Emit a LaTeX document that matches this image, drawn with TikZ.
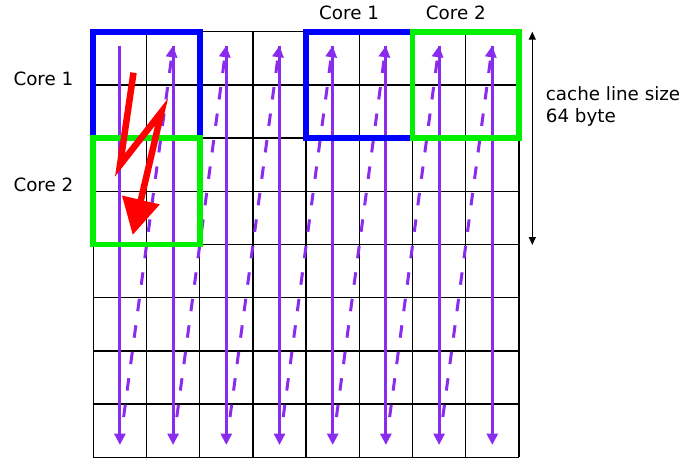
\documentclass[tikz,border=0pt]{standalone}
\usepackage{fontspec}
\setmainfont{DejaVu Sans}
\usetikzlibrary{arrows.meta,calc}
\definecolor{pv}{RGB}{138,43,240}
\definecolor{gr}{RGB}{0,240,0}
\definecolor{bl}{RGB}{0,0,255}
\begin{document}
\begin{tikzpicture}[x=1pt,y=-1pt,
  gridline/.style={line width=1.3pt, black},
  downarr/.style={pv, line width=3pt, -{Triangle[length=11.5pt,width=11pt]}},
  retarr/.style={pv, line width=3pt, dash pattern=on 12.5pt off 14.2pt, dash phase=12.5pt, -{Triangle[length=11.5pt,width=11pt]}},
  corebox/.style={line width=5.8pt, minimum width=106.4pt, minimum height=106.4pt, inner sep=0pt, draw, fill=none},
  lab/.style={font=\fontsize{18.3}{21.7}\selectfont, inner sep=0pt, anchor=base west},
  dimarr/.style={black, line width=1.2pt, {Triangle[length=8pt,width=7pt]}-{Triangle[length=8pt,width=7pt]}},
  lightning/.style={red, line width=6.5pt, line join=miter, -{Triangle[length=36pt,width=37pt]}}]
\useasboundingbox (0,0) rectangle (698,458);
\fill[white] (0,0) rectangle (698,458);
% grid
\foreach \i in {0,...,8}{
  \draw[gridline] ({93.3+53.2*\i},31.7) -- ({93.3+53.2*\i},457.3);
  \draw[gridline] (93.3,{31.7+53.2*\i}) -- (518.9,{31.7+53.2*\i});
}
% column end points
\foreach \i in {1,...,8}{
  \coordinate (t\i) at ({66.7+53.2*\i},45.7);
  \coordinate (b\i) at ({66.7+53.2*\i},445);
}
% traversal arrows
\foreach \i in {1,...,8}{ \draw[downarr] (t\i) -- (b\i); }
\foreach \i [evaluate=\i as \j using int(\i+1)] in {1,...,7}{
  \draw[retarr] ($(b\i)!14pt!(t\j)$) -- (t\j);
}
% core boxes
\node[corebox, draw=bl] (lb) at (146.5,84.9) {};
\node[corebox, draw=gr] (lg) at (146.5,191.3) {};
\node[corebox, draw=bl] (rb) at (359.3,84.9) {};
\node[corebox, draw=gr] (rg) at (465.7,84.9) {};
% labels
\node[lab] (l1) at (13.3,85.7) {Core 1};
\node[lab] (l2) at (13.3,191.7) {Core 2};
\node[lab] (t1lab) at (319,19.3) {Core 1};
\node[lab] (t2lab) at (425.7,19.3) {Core 2};
\node[lab] (cl1) at (545.7,100.7) {cache line size};
\node[lab] (cl2) at (545.7,122) {64 byte};
% dimension arrow
\coordinate (dimtop) at (532.3,31.7);
\coordinate (dimbot) at (532.3,245);
\draw[dimarr] (dimtop) -- (dimbot);
% lightning
\coordinate (r1) at (133.5,72.7);
\coordinate (r2) at (120,165);
\coordinate (r3) at (161.5,112);
\coordinate (r4) at (132.7,235);
\draw[lightning] (r1) -- (r2) -- (r3) -- (r4);
\end{tikzpicture}
\end{document}
